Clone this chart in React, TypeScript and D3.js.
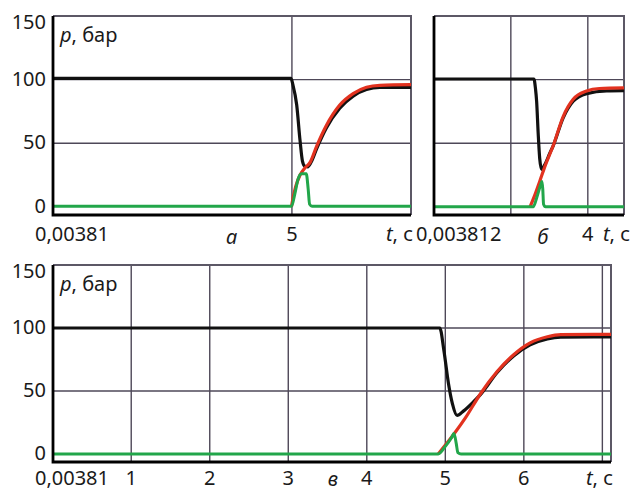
import React from "react";
import * as d3 from "d3";

type Pt = [number, number];

// panel а: t (s), p (bar)
const aBlack: Pt[] = [
  [0.00381, 101], [4.98, 101], [5.02, 96], [5.1, 80], [5.17, 52], [5.22, 36],
  [5.27, 32], [5.33, 31.5], [5.4, 35], [5.52, 46], [5.72, 62], [6.0, 77.5],
  [6.28, 87], [6.56, 92.3], [6.84, 93.8], [7.49, 93.8],
];
const aRed: Pt[] = [
  [4.99, 0], [5.03, 8], [5.08, 16], [5.17, 25], [5.27, 30.5], [5.38, 35],
  [5.52, 48], [5.72, 64], [6.0, 80], [6.28, 89], [6.56, 94], [6.84, 95.5], [7.49, 96],
];
const aGreen: Pt[] = [
  [0.00381, 0.5], [4.99, 0.5], [5.06, 10], [5.13, 22], [5.2, 26], [5.3, 26],
  [5.34, 14], [5.37, 2], [5.42, 0.5], [7.49, 0.5],
];

// panel б
const bBlack: Pt[] = [
  [0.003812, 100.5], [2.6, 100.5], [2.64, 93], [2.67, 83], [2.71, 58], [2.75, 38],
  [2.8, 29.5], [2.88, 33], [3.01, 42], [3.1, 48], [3.36, 70], [3.62, 83],
  [3.97, 89], [4.49, 91.2], [4.94, 91.4],
];
const bRed: Pt[] = [
  [2.5, 0], [2.62, 9], [2.75, 20], [2.9, 33], [3.1, 48], [3.36, 71],
  [3.62, 84.5], [3.97, 91], [4.3, 93], [4.94, 93.5],
];
const bGreen: Pt[] = [
  [0.003812, 0], [2.58, 0], [2.68, 8], [2.76, 16], [2.81, 20], [2.83, 14],
  [2.85, 2], [2.9, 0], [4.94, 0],
];

// panel в
const cBlack: Pt[] = [
  [0.00381, 100], [4.93, 100], [4.98, 83], [5.04, 56], [5.09, 40], [5.15, 30.6],
  [5.23, 34], [5.36, 41.5], [5.45, 47.3], [5.66, 64.6], [5.87, 77.8],
  [6.08, 86.6], [6.3, 91.3], [6.47, 92.7], [7.11, 93],
];
const cRed: Pt[] = [
  [4.91, 0], [5.11, 15.8], [5.26, 29], [5.45, 48], [5.66, 65.4], [5.87, 78.8],
  [6.08, 88.2], [6.3, 93], [6.47, 94.7], [7.11, 95],
];
const cGreen: Pt[] = [
  [0.00381, 0], [4.91, 0], [5.0, 6], [5.08, 13], [5.11, 16.3], [5.14, 8],
  [5.16, 1], [5.2, 0], [7.11, 0],
];

const yTickLabels = [0, 50, 100, 150];
const yGrid = [50, 100];
const aXGrid = [5];
const bXGrid = [2, 4];
const cXGrid = [1, 2, 3, 4, 5, 6, 7];
const aXLabels = [5];
const bXLabels = [4];
const cXLabels = [1, 2, 3, 4, 5, 6];

const FONT = "'Noto Sans', 'DejaVu Sans', sans-serif";
const GRID = "#4e4858";

interface PanelProps {
  domain: [number, number];
  px: [number, number];
  py: [number, number];
  black: Pt[];
  red: Pt[];
  green: Pt[];
  xGrid: number[];
  xLabels: number[];
  startLabel: string;
  name: string;
  nameT: number;
  nameDy: number;
  showY: boolean;
  titleEnd: number;
  labelDy: number;
}

function Panel(p: PanelProps) {
  const x = d3.scaleLinear().domain(p.domain).range(p.px);
  const y = d3.scaleLinear().domain([-6.4, 150]).range(p.py);
  const line = d3
    .line<Pt>()
    .x((d) => x(d[0]))
    .y((d) => y(d[1]))
    .curve(d3.curveMonotoneX);
  const [l, r] = p.px;
  const [b, t] = p.py;
  return (
    <g fontFamily={FONT} fontSize={20} fill="#1a1a1a">
      {yGrid.map((v) => (
        <line key={"h" + v} x1={l} x2={r} y1={y(v)} y2={y(v)} stroke={GRID} strokeWidth={1.4} />
      ))}
      {p.xGrid.map((v) => (
        <line key={"v" + v} x1={x(v)} x2={x(v)} y1={t} y2={b} stroke={GRID} strokeWidth={1.4} />
      ))}
      <path d={`M${l},${t}H${r}V${b}`} fill="none" stroke="#5c5866" strokeWidth={2} />
      <path d={line(p.black) || ""} fill="none" stroke="#111" strokeWidth={3.2} />
      <path d={line(p.red) || ""} fill="none" stroke="#e2321f" strokeWidth={3.2} />
      <path d={line(p.green) || ""} fill="none" stroke="#22a64a" strokeWidth={3} />
      <path d={`M${l},${t}V${b}H${r}`} fill="none" stroke="#000" strokeWidth={2.8} />
      {p.showY &&
        yTickLabels.map((v) => (
          <text key={"y" + v} x={l - 7} y={Math.max(y(v), t + 7)} dy="0.3em" textAnchor="end">
            {v}
          </text>
        ))}
      {p.showY && (
        <text x={l + 7} y={t + 26}>
          <tspan fontStyle="italic">p</tspan>, бар
        </text>
      )}
      <text x={l - 18} y={b + p.labelDy}>{p.startLabel}</text>
      {p.xLabels.map((v) => (
        <text key={"x" + v} x={x(v)} y={b + p.labelDy} textAnchor="middle">{v}</text>
      ))}
      <text x={x(p.nameT)} y={b + p.nameDy} textAnchor="middle" fontStyle="italic">{p.name}</text>
      <text x={p.titleEnd} y={b + p.labelDy} textAnchor="end">
        <tspan fontStyle="italic">t</tspan>, с
      </text>
    </g>
  );
}

export default function App() {
  return (
    <svg width={630} height={492} style={{ position: "absolute", left: 0, top: 0, background: "#fff" }}>
      <Panel
        domain={[0.00381, 7.49]} px={[53, 411]} py={[215, 16]}
        black={aBlack} red={aRed} green={aGreen}
        xGrid={aXGrid} xLabels={aXLabels} startLabel="0,00381"
        name="а" nameT={3.74} nameDy={29} showY={true} titleEnd={413} labelDy={26}
      />
      <Panel
        domain={[0.003812, 4.94]} px={[434, 624]} py={[215, 16]}
        black={bBlack} red={bRed} green={bGreen}
        xGrid={bXGrid} xLabels={bXLabels} startLabel="0,003812"
        name="б" nameT={2.83} nameDy={29} showY={false} titleEnd={630} labelDy={26}
      />
      <Panel
        domain={[0.00381, 7.11]} px={[53, 611]} py={[462, 265]}
        black={cBlack} red={cRed} green={cGreen}
        xGrid={cXGrid} xLabels={cXLabels} startLabel="0,00381"
        name="в" nameT={3.57} nameDy={24} showY={true} titleEnd={613} labelDy={23}
      />
    </svg>
  );
}
